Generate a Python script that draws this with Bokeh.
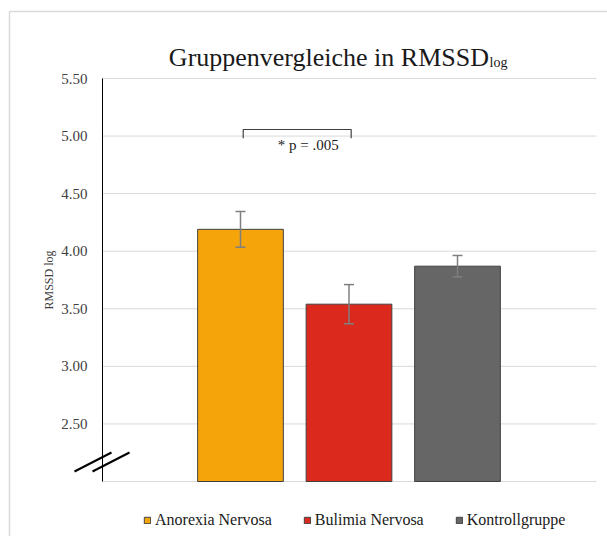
from bokeh.plotting import figure
from bokeh.models import (ColumnDataSource, FixedTicker, NumeralTickFormatter, Range1d,
                          Whisker, TeeHead, Label, Arrow, Legend, LegendItem)
from bokeh.embed import file_html
from bokeh.resources import INLINE
from bokeh.core.properties import value

# ---- data ----
groups = ["Anorexia Nervosa", "Bulimia Nervosa", "Kontrollgruppe"]
means = [4.19, 3.54, 3.87]
errors = [0.155, 0.17, 0.093]
colors = ["#F5A50A", "#DC291D", "#666666"]
y_ticks = [2.5, 3.0, 3.5, 4.0, 4.5, 5.0, 5.5]
y_min, y_max = 2.0, 5.5
sig_pair = [0, 1]          # groups compared
sig_label = "* p = .005"
sig_level = 5.057
title_main = "Gruppenvergleiche  in RMSSD"
title_sub = "log"
y_label = "RMSSD log"

FONT = "Liberation Serif"
W, H = 607, 536
# plot-area pixel geometry inside the canvas
AL, AR, AT, AB = 102, 596, 78, 481
PX_X = 108.5                       # px per category step
FIRST_CAT_PX = 240                 # centre of first category
PX_Y = (AB - AT) / (y_max - y_min)

xs = [i + 1 for i in range(len(groups))]

x_lo = xs[0] - (FIRST_CAT_PX - 0) / PX_X
x_hi = xs[0] + (W - FIRST_CAT_PX) / PX_X
y_lo = y_min - (H - AB) / PX_Y
y_hi = y_max + AT / PX_Y
x_axis_pos = xs[0] - (FIRST_CAT_PX - AL) / PX_X
x_right = xs[0] + (AR - FIRST_CAT_PX) / PX_X

p = figure(output_backend="svg", toolbar_location=None,
           frame_width=W, frame_height=H,
           x_range=Range1d(x_lo, x_hi), y_range=Range1d(y_lo, y_hi),
           min_border=0)
p.outline_line_color = None
p.background_fill_color = "white"
p.border_fill_color = "white"

# y axis placed inside the canvas
p.yaxis.fixed_location = x_axis_pos
p.yaxis.bounds = (y_min, y_max)
p.yaxis.ticker = FixedTicker(ticks=y_ticks)
p.yaxis.formatter = NumeralTickFormatter(format="0.00")
p.yaxis.major_tick_line_color = None
p.yaxis.minor_tick_line_color = None
p.yaxis.major_tick_out = 0
p.yaxis.major_tick_in = 0
p.yaxis.major_label_standoff = 15
p.yaxis.axis_line_color = "black"
p.yaxis.major_label_text_font = FONT
p.yaxis.major_label_text_font_size = "15px"
p.yaxis.major_label_text_color = "#404040"
p.yaxis.axis_label = y_label
p.yaxis.axis_label_text_font = FONT
p.yaxis.axis_label_text_font_style = "normal"
p.yaxis.axis_label_text_font_size = "12px"
p.yaxis.axis_label_text_color = "#404040"
p.yaxis.axis_label_standoff = 2
p.xaxis.visible = False
p.xgrid.visible = False
p.ygrid.visible = False

# gridlines and bottom line of the plot area
p.segment(x0=[x_axis_pos] * len(y_ticks), x1=[x_right] * len(y_ticks),
          y0=y_ticks, y1=y_ticks, line_color="#d9d9d9", line_width=1)
p.segment(x0=[x_axis_pos], x1=[x_right], y0=[y_min], y1=[y_min],
          line_color="#d9d9d9", line_width=1)

# bars
items = []
for i, g in enumerate(groups):
    r = p.vbar(x=[xs[i]], top=[means[i]], bottom=y_min, width=0.79,
               fill_color=colors[i], line_color="#404040", line_width=1)
    items.append(LegendItem(label=g, renderers=[r]))

# error bars
src = ColumnDataSource(dict(x=xs,
                            upper=[m + e for m, e in zip(means, errors)],
                            lower=[m - e for m, e in zip(means, errors)]))
p.add_layout(Whisker(base="x", upper="upper", lower="lower", source=src,
                     dimension="height", line_color="#7f7f7f", line_width=1.5,
                     level="overlay",
                     upper_head=TeeHead(size=10, line_color="#7f7f7f", line_width=1.5),
                     lower_head=TeeHead(size=10, line_color="#7f7f7f", line_width=1.5)))

# significance bracket
xa = xs[sig_pair[0]] + 0.025
xb = xs[sig_pair[1]] + 0.02
p.line(x=[xa, xa, xb, xb], y=[sig_level - 0.075, sig_level, sig_level, sig_level - 0.075],
       line_color="#404040", line_width=1.2)
p.text(x=[xa + 0.6], y=[sig_level - 0.131], text=[sig_label],
       text_font=value(FONT), text_font_size="15px", text_align="center",
       text_baseline="middle", text_color="#1a1a1a")

# title (main + subscript); screen units measured from canvas bottom-left
p.add_layout(Label(x=495, y=H - 57, x_units="screen", y_units="screen",
                   text=title_main, text_align="right", text_baseline="alphabetic",
                   text_font=FONT, text_font_size="26px", text_color="#1a1a1a"))
p.add_layout(Label(x=489, y=H - 62, x_units="screen", y_units="screen",
                   text=title_sub, text_align="left", text_baseline="alphabetic",
                   text_font=FONT, text_font_size="14px", text_color="#1a1a1a"))

# axis break marks
for dx in (0, 18):
    p.add_layout(Arrow(end=None, x_start=74 + dx, y_start=H - 471,
                       x_end=111 + dx, y_end=H - 452,
                       start_units="screen", end_units="screen",
                       line_color="black", line_width=2))

# outer chart border (top and left)
p.add_layout(Arrow(end=None, x_start=9, y_start=H - 11, x_end=W + 5, y_end=H - 11,
                   start_units="screen", end_units="screen", line_color="#d9d9d9", line_width=1.5))
p.add_layout(Arrow(end=None, x_start=9, y_start=H - 11, x_end=9, y_end=-5,
                   start_units="screen", end_units="screen", line_color="#d9d9d9", line_width=1.5))

legend = Legend(items=items, orientation="horizontal", location=(143, 7),
                glyph_width=8, glyph_height=8, label_standoff=4, spacing=31,
                label_text_font=FONT, label_text_font_size="16px", label_height=16,
                label_text_color="#1a1a1a", border_line_color=None,
                background_fill_alpha=0, padding=0, margin=0)
p.add_layout(legend, "center")

open("out.html", "w").write(file_html(p, INLINE))
